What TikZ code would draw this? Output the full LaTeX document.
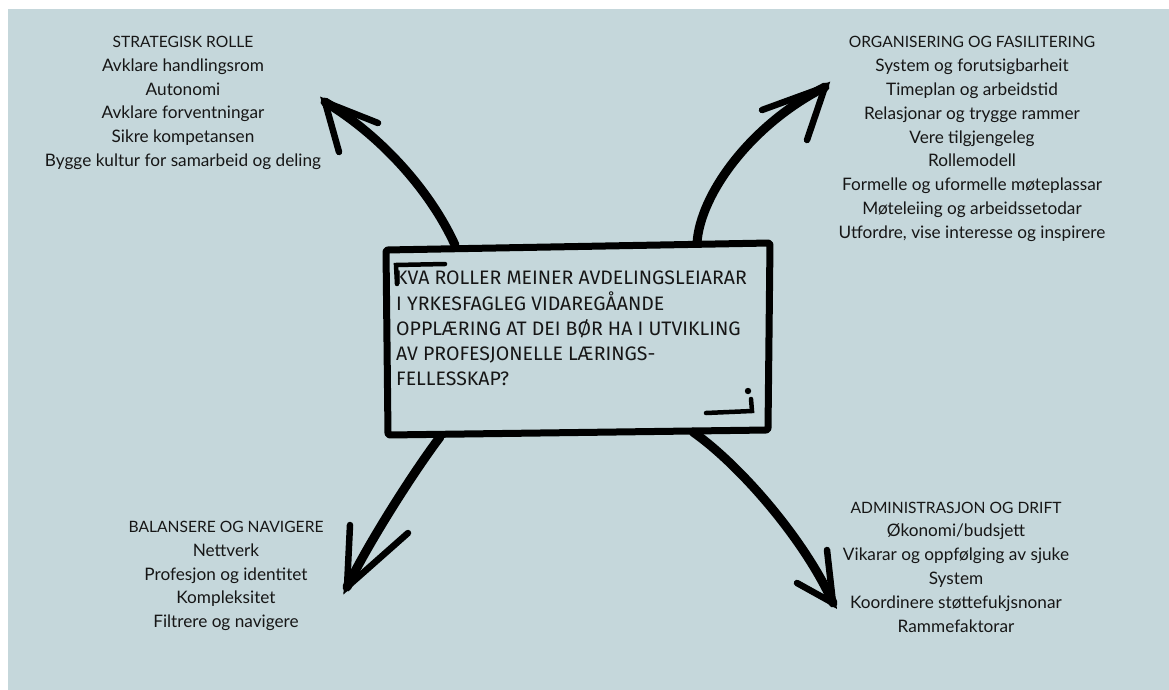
\documentclass[tikz,border=0pt]{standalone}
\usepackage{fontspec}
\setmainfont{Lato}
\newfontfamily\boxfont{Fira Sans}
\usepackage{tikz}
\usetikzlibrary{arrows.meta}
\definecolor{roleback}{HTML}{C5D7DB}
\definecolor{roleink}{HTML}{161616}
\newcommand{\rolehead}[1]{{\fontsize{15.6}{23.8}\selectfont #1}}

\begin{document}
\begin{tikzpicture}[x=1pt, y=-1pt,
    rolelist/.style={align=center, text=roleink, font=\fontsize{17.2}{23.8}\selectfont},
    brush/.style={line width=9pt, line cap=round, line join=round},
    barb/.style={line width=6.5pt, line cap=round},
    frame/.style={line width=7pt, line join=round, rounded corners=2pt},
    cornermark/.style={line width=4.5pt, line cap=round}
]
\useasboundingbox (0,0) rectangle (1169,690);
\fill[white] (0,0) rectangle (1169,690);
\fill[roleback] (8,9) rectangle (1169,690);

% question box
\node[minimum width=381pt, minimum height=186pt] (q) at (577,340) {};
\node[anchor=north west, align=left, text=roleink, inner sep=0pt,
      font=\boxfont\fontsize{19.5}{25.2}\selectfont] (qtext) at (396,271)
  {KVA ROLLER MEINER AVDELINGSLEIARAR\\
   I YRKESFAGLEG VIDAREGÅANDE\\
   OPPLÆRING AT DEI BØR HA I UTVIKLING\\
   AV PROFESJONELLE LÆRINGS-\\
   FELLESSKAP?};
\draw[frame] (386,250) -- (770,243) -- (768,430) -- (388,435) -- cycle;
\draw[cornermark] (445,264) -- (396,265) -- (397,284);
\draw[cornermark] (706,413) -- (752,411) -- (751,399);
\fill (748,391) circle (3.2);

% role lists
\node[rolelist] (strat) at (183,103)
  {\rolehead{STRATEGISK ROLLE}\\ Avklare handlingsrom\\ Autonomi\\ Avklare forventningar\\
   Sikre kompetansen\\ Bygge kultur for samarbeid og deling};
\node[rolelist] (org) at (972,139)
  {\rolehead{ORGANISERING OG FASILITERING}\\ System og forutsigbarheit\\ Timeplan og arbeidstid\\
   Relasjonar og trygge rammer\\ Vere tilgjengeleg\\ Rollemodell\\
   Formelle og uformelle møteplassar\\ Møteleiing og arbeidssetodar\\
   Utfordre, vise interesse og inspirere};
\node[rolelist] (bal) at (226,576)
  {\rolehead{BALANSERE OG NAVIGERE}\\ Nettverk\\ Profesjon og identitet\\ Kompleksitet\\
   Filtrere og navigere};
\node[rolelist] (adm) at (956,567)
  {\rolehead{ADMINISTRASJON OG DRIFT}\\ Økonomi/budsjett\\ Vikarar og oppfølging av sjuke\\
   System\\ Koordinere støttefukjsnonar\\ Rammefaktorar};

% arrow tips
\coordinate (tl) at (325,102);
\coordinate (tr) at (825,87);
\coordinate (bl) at (347,587);
\coordinate (br) at (833,603);

\draw[brush] (455,245) .. controls (430,190) and (380,135) .. (tl);
\draw[barb] (378,123) -- (tl) -- (339,152);
\draw[brush] (697,243) .. controls (700,195) and (750,125) .. (tr);
\draw[barb] (762,110) -- (tr) -- (807,140);
\draw[brush] (440,437) .. controls (415,470) and (370,540) .. (bl);
\draw[barb] (350,525) -- (bl) -- (408,533);
\draw[brush] (693,432) .. controls (740,465) and (805,540) .. (br);
\draw[barb] (827,550) -- (br) -- (797,583);
\end{tikzpicture}
\end{document}
